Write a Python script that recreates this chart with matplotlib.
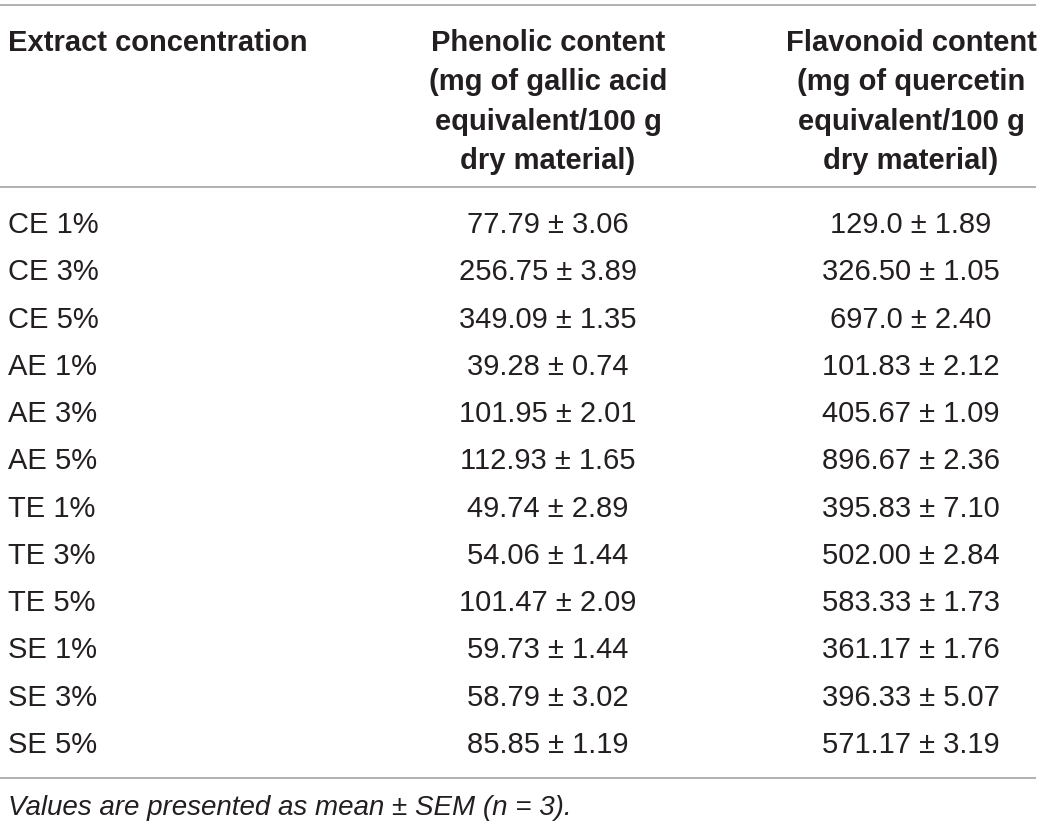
import matplotlib.pyplot as plt

# table values
extracts = ["CE 1%", "CE 3%", "CE 5%", "AE 1%", "AE 3%", "AE 5%",
            "TE 1%", "TE 3%", "TE 5%", "SE 1%", "SE 3%", "SE 5%"]
phenolic_mean = ["77.79", "256.75", "349.09", "39.28", "101.95", "112.93",
                 "49.74", "54.06", "101.47", "59.73", "58.79", "85.85"]
phenolic_sem = ["3.06", "3.89", "1.35", "0.74", "2.01", "1.65",
                "2.89", "1.44", "2.09", "1.44", "3.02", "1.19"]
flavonoid_mean = ["129.0", "326.50", "697.0", "101.83", "405.67", "896.67",
                  "395.83", "502.00", "583.33", "361.17", "396.33", "571.17"]
flavonoid_sem = ["1.89", "1.05", "2.40", "2.12", "1.09", "2.36",
                 "7.10", "2.84", "1.73", "1.76", "5.07", "3.19"]

col_headers = ["Extract concentration",
               ["Phenolic content", "(mg of gallic acid", "equivalent/100 g", "dry material)"],
               ["Flavonoid content", "(mg of quercetin", "equivalent/100 g", "dry material)"]]
footnote = "Values are presented as mean \u00b1 SEM (n = 3)."

plt.rcParams['font.family'] = ['Liberation Sans', 'DejaVu Sans']
txt = '#231f20'
rule = '#9d9d9d'

fig = plt.figure(figsize=(10.4, 8.27), dpi=100)
ax = fig.add_axes([0, 0, 1, 1])
ax.set_xlim(0, 1040)
ax.set_ylim(827, 0)
ax.axis('off')

x_first, x_phen, x_flav = 8, 548, 911
head_base, head_step = 51, 39.3
row_base, row_step = 233, 47.27

# rules
ax.hlines([5, 187, 778], 0, 1036, colors=rule, linewidth=1.1)

# header
ax.text(x_first, head_base, col_headers[0], fontsize=21, fontweight='bold',
        color=txt, ha='left', va='baseline')
for j, line in enumerate(col_headers[1]):
    ax.text(x_phen, head_base + j * head_step, line, fontsize=21, fontweight='bold',
            color=txt, ha='center', va='baseline')
for j, line in enumerate(col_headers[2]):
    ax.text(x_flav, head_base + j * head_step, line, fontsize=21, fontweight='bold',
            color=txt, ha='center', va='baseline')

# rows
for i, name in enumerate(extracts):
    y = row_base + i * row_step
    ax.text(x_first, y, name, fontsize=21, color=txt, ha='left', va='baseline')
    ax.text(x_phen, y, f"{phenolic_mean[i]} \u00b1 {phenolic_sem[i]}", fontsize=21,
            color=txt, ha='center', va='baseline')
    ax.text(x_flav, y, f"{flavonoid_mean[i]} \u00b1 {flavonoid_sem[i]}", fontsize=21,
            color=txt, ha='center', va='baseline')

ax.text(x_first, 815, footnote, fontsize=20, style='italic', color=txt,
        ha='left', va='baseline')

fig.savefig('out.png', dpi=100)
